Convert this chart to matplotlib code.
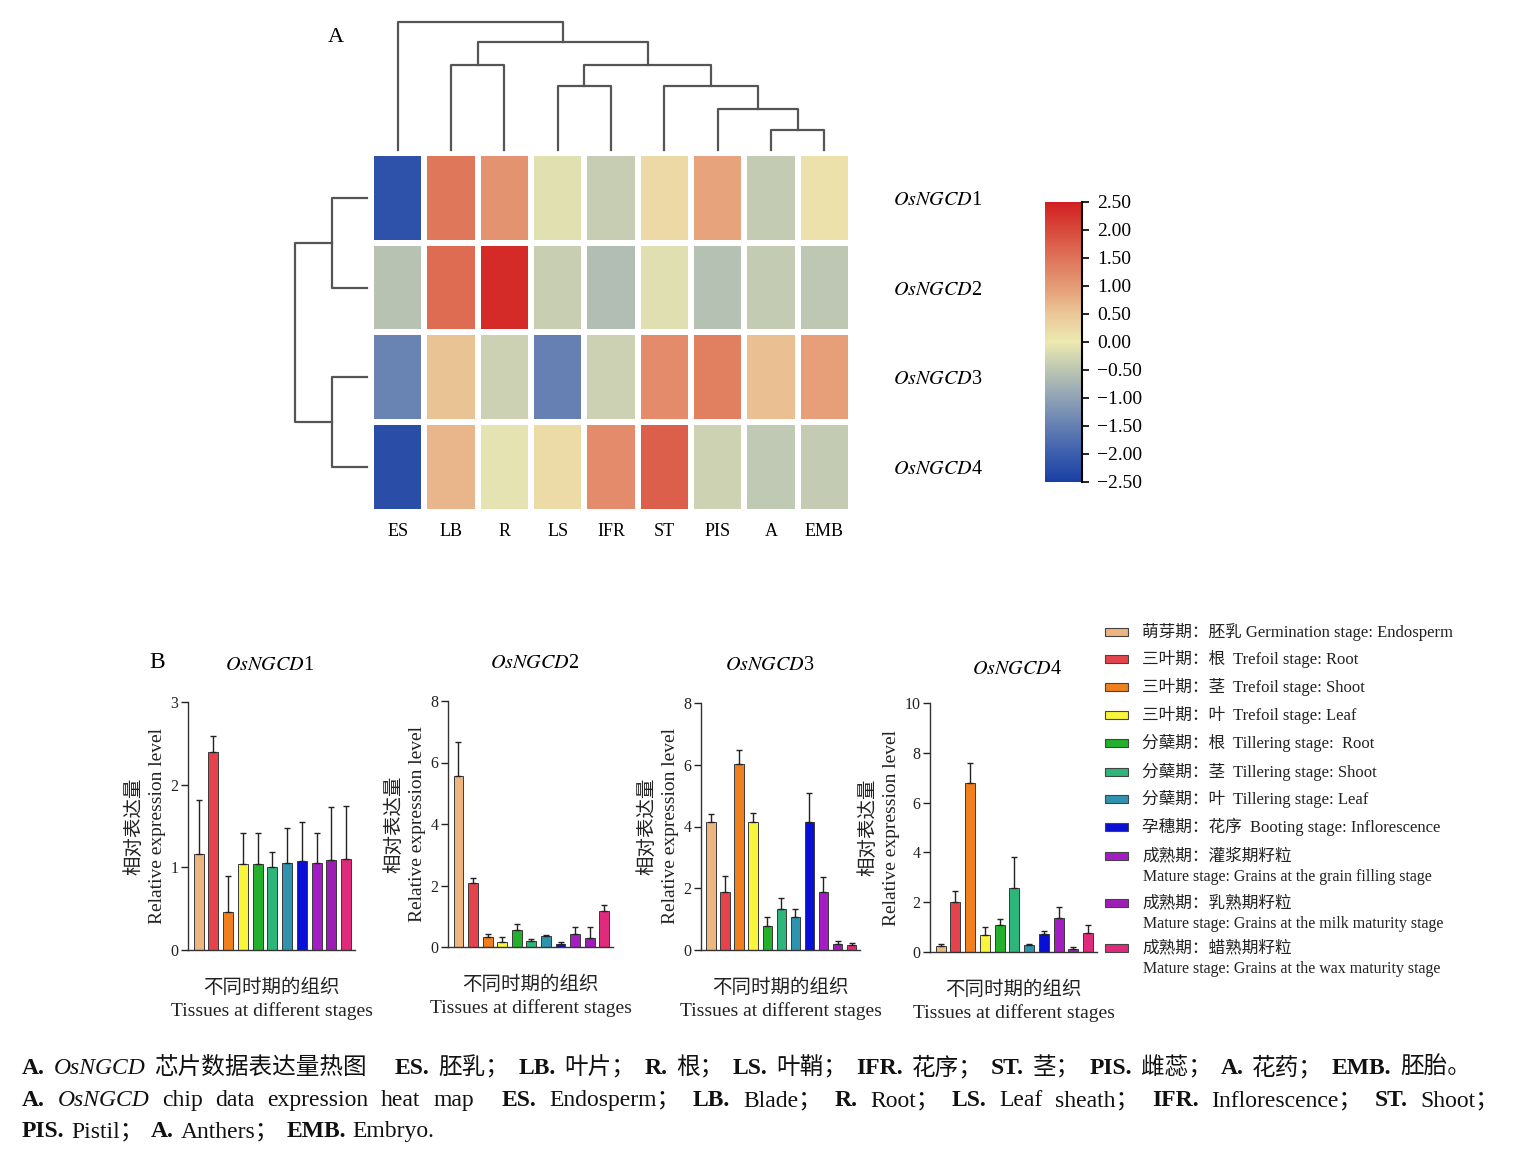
import numpy as np
import matplotlib
matplotlib.use('Agg')
import matplotlib.pyplot as plt
from matplotlib.colors import LinearSegmentedColormap
from matplotlib.patches import Rectangle

plt.rcParams['font.family'] = ['Liberation Serif', 'Noto Sans CJK SC']
plt.rcParams['mathtext.fontset'] = 'stix'

W, H = 1525, 1153

# ---- heatmap data (A) ----
tissues_hm = ['ES', 'LB', 'R', 'LS', 'IFR', 'ST', 'PIS', 'A', 'EMB']
genes = ['1', '2', '3', '4']
hm_ngcd1 = [-2.2, 1.45, 1.1, -0.12, -0.4, 0.25, 0.9, -0.42, 0.12]
hm_ngcd2 = [-0.55, 1.6, 2.35, -0.38, -0.62, -0.15, -0.58, -0.42, -0.48]
hm_ngcd3 = [-1.45, 0.55, -0.35, -1.5, -0.35, 1.2, 1.35, 0.6, 0.95]
hm_ngcd4 = [-2.25, 0.7, -0.08, 0.2, 1.2, 1.75, -0.33, -0.45, -0.42]
# linkage: (node a, node b, height)
col_merges = [(7, 8, 0.16), (6, 9, 0.32), (5, 10, 0.5), (3, 4, 0.5),
              (12, 11, 0.66), (1, 2, 0.66), (14, 13, 0.84), (0, 15, 1.0)]
row_merges = [(0, 1, 0.49), (2, 3, 0.49), (4, 5, 1.0)]
cbar_ticks = [-2.5, -2.0, -1.5, -1.0, -0.5, 0.0, 0.5, 1.0, 1.5, 2.0, 2.5]

# ---- qPCR data (B) ----
ngcd1_mean = [1.16, 2.40, 0.46, 1.04, 1.04, 1.01, 1.05, 1.08, 1.05, 1.09, 1.10]
ngcd1_sd = [0.65, 0.19, 0.44, 0.37, 0.37, 0.17, 0.42, 0.47, 0.37, 0.64, 0.64]
ngcd2_mean = [5.56, 2.08, 0.31, 0.16, 0.54, 0.18, 0.35, 0.11, 0.41, 0.28, 1.16]
ngcd2_sd = [1.12, 0.15, 0.12, 0.16, 0.21, 0.08, 0.05, 0.06, 0.24, 0.37, 0.19]
ngcd3_mean = [4.15, 1.87, 6.03, 4.15, 0.78, 1.32, 1.06, 4.15, 1.87, 0.18, 0.16]
ngcd3_sd = [0.26, 0.52, 0.46, 0.30, 0.29, 0.35, 0.28, 0.94, 0.50, 0.12, 0.08]
ngcd4_mean = [0.23, 1.99, 6.78, 0.70, 1.07, 2.58, 0.27, 0.74, 1.38, 0.13, 0.77]
ngcd4_sd = [0.11, 0.47, 0.80, 0.31, 0.25, 1.23, 0.04, 0.11, 0.41, 0.07, 0.30]
yticks_list = [[0, 1, 2, 3], [0, 2, 4, 6, 8], [0, 2, 4, 6, 8], [0, 2, 4, 6, 8, 10]]

bar_colors = ['#EDB57F', '#E5434B', '#F07F1E', '#F9F53A', '#23B02A', '#2DB57A',
              '#2E93AE', '#0A0FD5', '#A41DC3', '#9E1DB5', '#E02A7C']
leg_labels = ['萌芽期：胚乳 Germination stage: Endosperm',
              '三叶期：根  Trefoil stage: Root',
              '三叶期：茎  Trefoil stage: Shoot',
              '三叶期：叶  Trefoil stage: Leaf',
              '分蘖期：根  Tillering stage:  Root',
              '分蘖期：茎  Tillering stage: Shoot',
              '分蘖期：叶  Tillering stage: Leaf',
              '孕穗期：花序  Booting stage: Inflorescence',
              '成熟期：灌浆期籽粒',
              '成熟期：乳熟期籽粒',
              '成熟期：蜡熟期籽粒']
leg_sub = [None] * 8 + ['Mature stage: Grains at the grain filling stage',
                        'Mature stage: Grains at the milk maturity stage',
                        'Mature stage: Grains at the wax maturity stage']


def box(l, t, r, b):
    return [l / W, 1 - b / H, (r - l) / W, (b - t) / H]


def ftext(x, y, s, **kw):
    return fig.text(x / W, 1 - y / H, s, **kw)


fig = plt.figure(figsize=(W / 100, H / 100), dpi=100)

# colormap
cm_vals = [-2.5, -2.0, -1.5, -1.0, -0.5, 0.0, 0.5, 1.0, 1.5, 2.0, 2.5]
cm_cols = ['#1a3fa3', '#3c5fae', '#6680b3', '#90a3b6', '#bcc6b3', '#ede9b0',
           '#ebc899', '#e59b76', '#df7459', '#d84b3c', '#d21f22']
cmap = LinearSegmentedColormap.from_list(
    'hm', [((v + 2.5) / 5, c) for v, c in zip(cm_vals, cm_cols)])

# heatmap
ax = fig.add_axes(box(371, 153, 851, 512))
hm = np.array([hm_ngcd1, hm_ngcd2, hm_ngcd3, hm_ngcd4])
ax.pcolormesh(hm, cmap=cmap, vmin=-2.5, vmax=2.5, edgecolors='white', linewidth=3)
ax.set_xlim(0, 9)
ax.set_ylim(4, 0)
ax.set_xticks(np.arange(9) + 0.5)
ax.set_xticklabels(tissues_hm, fontsize=13)
ax.set_yticks(np.arange(4) + 0.5)
ax.set_yticklabels([r'$\mathit{OsNGCD}$' + g for g in genes], fontsize=14.5)
ax.yaxis.tick_right()
ax.tick_params(length=0, pad=8)
ax.tick_params(axis='y', pad=30)
for s in ax.spines.values():
    s.set_visible(False)


def dendro(ax, merges, n, orient):
    pos = {i: (float(i), 0.0) for i in range(n)}
    for k, (a, b, h) in enumerate(merges):
        xa, ha = pos[a]
        xb, hb = pos[b]
        xs, hs = [xa, xa, xb, xb], [ha, h, h, hb]
        if orient == 'top':
            ax.plot(xs, hs, color='#555555', lw=1.6, clip_on=False)
        else:
            ax.plot(hs, xs, color='#555555', lw=1.6, clip_on=False)
        pos[n + k] = ((xa + xb) / 2, h)
    ax.axis('off')


axt = fig.add_axes(box(371, 20, 851, 150))
dendro(axt, col_merges, 9, 'top')
axt.set_xlim(0 - 0.5, 8.5)
axt.set_ylim(0, 1.015)

axl = fig.add_axes(box(295, 153, 367, 512))
dendro(axl, row_merges, 4, 'left')
axl.set_xlim(1.0, 0)
axl.set_ylim(3.5, -0.5)

# colorbar
cax = fig.add_axes(box(1045, 202, 1082, 482))
cax.imshow(np.linspace(-2.5, 2.5, 256)[:, None], aspect='auto', origin='lower',
           extent=[0, 1, -2.5, 2.5], cmap=cmap, vmin=-2.5, vmax=2.5)
cax.set_xticks([])
cax.yaxis.tick_right()
cax.set_yticks(cbar_ticks)
cax.set_yticklabels([f'{v:.2f}'.replace('-', '\u2212') for v in cbar_ticks], fontsize=14)
cax.tick_params(axis='y', length=5, width=1.2, pad=6)
for k in ['top', 'bottom', 'left']:
    cax.spines[k].set_visible(False)
cax.spines['right'].set_linewidth(1.5)

ftext(336, 38, 'A', fontsize=16, ha='center', va='center')
ftext(157, 662, 'B', fontsize=17, ha='center', va='center')

# bar panels
panels = [(ngcd1_mean, ngcd1_sd, (188, 702, 355, 950), '1', (270, 665)),
          (ngcd2_mean, ngcd2_sd, (448, 701, 613, 947), '2', (535, 664)),
          (ngcd3_mean, ngcd3_sd, (701, 703, 860, 950), '3', (770, 665)),
          (ngcd4_mean, ngcd4_sd, (930, 703, 1097, 952), '4', (1017, 669))]
for i, (mean, sd, bx, g, tpos) in enumerate(panels):
    ax = fig.add_axes(box(*bx))
    x = np.arange(len(mean))
    ax.bar(x, mean, width=0.68, color=bar_colors, edgecolor='#3a3a3a', linewidth=0.7, zorder=2)
    ax.errorbar(x, mean, yerr=[np.zeros(len(sd)), sd], fmt='none', ecolor='#222222',
                elinewidth=1.0, capsize=2.5, capthick=1.0, zorder=3)
    ax.set_xlim(-0.72, 10.6)
    yt = yticks_list[i]
    ax.set_ylim(0, yt[-1])
    ax.set_yticks(yt)
    ax.set_yticklabels([str(v) for v in yt], fontsize=11.5)
    ax.set_xticks([])
    ax.tick_params(axis='y', length=5, width=1, pad=2, colors='#222222')
    for k in ['top', 'right']:
        ax.spines[k].set_visible(False)
    for k in ['left', 'bottom']:
        ax.spines[k].set_linewidth(1.0)
        ax.spines[k].set_color('#333333')
    ax.set_ylabel('相对表达量\nRelative expression level', fontsize=14, linespacing=1.45,
                  labelpad=3, color='#222222')
    cx = (bx[0] + bx[2]) / 2
    ftext(tpos[0], tpos[1], r'$\mathit{OsNGCD}$' + g, fontsize=14.5, ha='center', va='center')
    ftext(cx, bx[3] + 38, '不同时期的组织', fontsize=14, ha='center', va='center', color='#222222')
    ftext(cx, bx[3] + 61, 'Tissues at different stages', fontsize=14, ha='center', va='center',
          color='#222222')

# legend
leg_y = [632, 659, 687, 715, 743, 772, 799, 827, 856, 903, 948]
for lab, sub, c, y in zip(leg_labels, leg_sub, bar_colors, leg_y):
    fig.add_artist(Rectangle((1105 / W, 1 - (y + 4) / H), 23 / W, 8 / H, transform=fig.transFigure,
                             facecolor=c, edgecolor='#444444', linewidth=0.8))
    ftext(1142, y, lab, fontsize=12, va='center', color='#222222')
    if sub:
        ftext(1143, y + 21, sub, fontsize=11.5, va='center', color='#222222')

# caption
renderer = fig.canvas.get_renderer()
fmt = {'n': {}, 'b': {'fontweight': 'bold'}, 'i': {'fontstyle': 'italic'}}


def put_line(yb, parts, x0, x1=None, size=17, gap=6):
    items = []
    for p in parts:
        if p == 'GAP':
            items.append(None)
            continue
        s, f = p
        t = ftext(0, yb, s, fontsize=size, va='baseline', color='#111111', **fmt[f])
        items.append(t)
    widths = [t.get_window_extent(renderer).width if t else 0 for t in items]
    n_gaps = sum(1 for t in items if t) - 1
    extra = 28 * items.count(None)
    g = gap
    if x1 is not None:
        g = max(2, (x1 - x0 - sum(widths) - extra) / n_gaps)
    x = x0
    for t, w in zip(items, widths):
        if t is None:
            x += 28 - g
            continue
        t.set_x(x / W)
        x += w + g


line1 = [('A.', 'b'), ('OsNGCD', 'i'), ('芯片数据表达量热图', 'n'), 'GAP',
         ('ES.', 'b'), ('胚乳；', 'n'), ('LB.', 'b'), ('叶片；', 'n'), ('R.', 'b'), ('根；', 'n'),
         ('LS.', 'b'), ('叶鞘；', 'n'), ('IFR.', 'b'), ('花序；', 'n'), ('ST.', 'b'), ('茎；', 'n'),
         ('PIS.', 'b'), ('雌蕊；', 'n'), ('A.', 'b'), ('花药；', 'n'), ('EMB.', 'b'), ('胚胎。', 'n')]
line2 = [('A.', 'b'), ('OsNGCD', 'i'), ('chip', 'n'), ('data', 'n'), ('expression', 'n'),
         ('heat', 'n'), ('map', 'n'), 'GAP', ('ES.', 'b'), ('Endosperm；', 'n'), ('LB.', 'b'),
         ('Blade；', 'n'), ('R.', 'b'), ('Root；', 'n'), ('LS.', 'b'), ('Leaf', 'n'),
         ('sheath；', 'n'), ('IFR.', 'b'), ('Inflorescence；', 'n'), ('ST.', 'b'), ('Shoot；', 'n')]
line3 = [('PIS.', 'b'), ('Pistil；', 'n'), ('A.', 'b'), ('Anthers；', 'n'), ('EMB.', 'b'),
         ('Embryo.', 'n')]
put_line(1074, line1, 22, 1480)
put_line(1106, line2, 22, 1512)
put_line(1137, line3, 22, None, gap=7)

fig.savefig('out.png', dpi=100, facecolor='white')
